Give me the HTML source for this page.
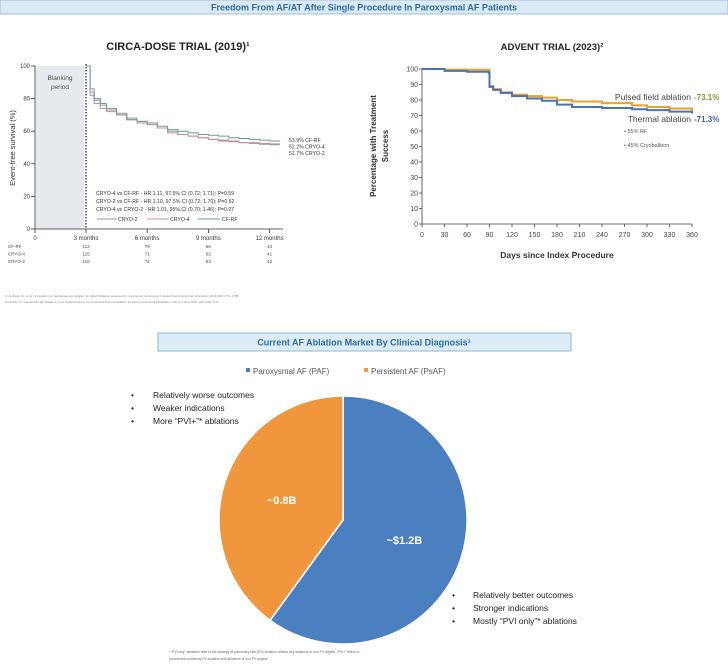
<!DOCTYPE html>
<html><head><meta charset="utf-8"><style>
body{margin:0;background:#fff;}
svg{display:block;font-family:"Liberation Sans",sans-serif;}
</style></head><body>
<svg id="s" width="728" height="665" viewBox="0 0 728 665" xmlns="http://www.w3.org/2000/svg">
<rect x="0" y="0" width="728" height="14" fill="#dbeaf6" stroke="#9fc0dc" stroke-width="1"/>
<text x="364" y="10.5" text-anchor="middle" font-size="9" font-weight="bold" fill="#2a6ca5">Freedom From AF/AT After Single Procedure In Paroxysmal AF Patients</text>

<g id="left">
<text x="178" y="50" text-anchor="middle" font-size="11" font-weight="bold" fill="#222">CIRCA-DOSE TRIAL (2019)¹</text>
<rect x="36" y="66" width="48" height="163" fill="#e6e9ee"/>
<text x="60" y="80" text-anchor="middle" font-size="6.5" fill="#555">Blanking</text>
<text x="60" y="89" text-anchor="middle" font-size="6.5" fill="#555">period</text>
<line x1="86" y1="64" x2="86" y2="229" stroke="#222" stroke-width="1.2" stroke-dasharray="1.5,1.5"/>
<text transform="translate(15,148) rotate(-90)" text-anchor="middle" font-size="7.5" fill="#333">Event-free survival (%)</text>
<text x="96" y="195" font-size="5.2" fill="#333">CRYO-4 vs CF-RF - HR 1.11, 97.5% CI (0.72; 1.71); P=0.59</text>
<text x="96" y="203" font-size="5.2" fill="#333">CRYO-2 vs CF-RF - HR 1.10, 97.5% CI (0.72; 1.70); P=0.62</text>
<text x="96" y="211" font-size="5.2" fill="#333">CRYO-4 vs CRYO-2 - HR 1.01, 95% CI (0.70; 1.46); P=0.97</text>
<g font-size="5.2" fill="#333">
<line x1="97" y1="219" x2="117" y2="219" stroke="#9a90a8"/><text x="118" y="221">CRYO-2</text>
<line x1="147" y1="219" x2="169" y2="219" stroke="#c89090"/><text x="170" y="221">CRYO-4</text>
<line x1="198" y1="219" x2="220" y2="219" stroke="#6f9a98"/><text x="222" y="221">CF-RF</text>
</g>
<text x="289" y="142" font-size="5.2" fill="#333">53.9% CF-RF</text>
<text x="289" y="148.5" font-size="5.2" fill="#333">52.2% CRYO-4</text>
<text x="289" y="155" font-size="5.2" fill="#333">51.7% CRYO-2</text>
</g>

<g id="right">
<text x="552" y="50" text-anchor="middle" font-size="9.5" font-weight="bold" fill="#222">ADVENT TRIAL (2023)²</text>
<text transform="translate(376,146) rotate(-90)" text-anchor="middle" font-size="8" font-weight="bold" fill="#333">Percentage with Treatment</text>
<text transform="translate(388,146) rotate(-90)" text-anchor="middle" font-size="8" font-weight="bold" fill="#333">Success</text>
<text x="557" y="258" text-anchor="middle" font-size="8.5" font-weight="bold" fill="#333">Days since Index Procedure</text>
<text x="691" y="100" text-anchor="end" font-size="8.5" fill="#444">Pulsed field ablation</text>
<text x="694" y="100" font-size="8" font-weight="bold" fill="#7f9b35">-73.1%</text>
<text x="691" y="122" text-anchor="end" font-size="8.5" fill="#444">Thermal ablation</text>
<text x="694" y="122" font-size="8" font-weight="bold" fill="#3d5f9e">-71.3%</text>
<text x="624" y="133" font-size="5.5" fill="#555">•   55% RF</text>
<text x="624" y="147" font-size="5.5" fill="#555">•   45% Cryoballoon</text>
</g>

<text x="5" y="297" font-size="3" fill="#888">1)        Andrade JG, et al. Cryoballoon or radiofrequency ablation for atrial fibrillation assessed by continuous monitoring: A randomized clinical trial. Circulation 2019;140:1779–1788.</text>
<text x="5" y="303" font-size="3" fill="#888">2)        Reddy VY, Gerstenfeld EP, Natale A, et al. Pulsed Field or Conventional Thermal Ablation for Paroxysmal Atrial Fibrillation. N Engl J Med 2023; 389:1660-1671.</text>

<rect x="158" y="333" width="413" height="18" fill="#dcedf8" stroke="#8fb4d0"/>
<text x="364" y="345.5" text-anchor="middle" font-size="9" font-weight="bold" fill="#2a6ca5">Current AF Ablation Market By Clinical Diagnosis¹</text>
<g font-size="8" fill="#555">
<rect x="246" y="368" width="4" height="4" fill="#4a7fc0"/><text x="253" y="374">Paroxysmal AF (PAF)</text>
<rect x="364" y="368" width="4" height="4" fill="#f0963c"/><text x="371" y="374">Persistent AF (PsAF)</text>
</g>
<g id="pie"></g>
<g font-size="8.5" fill="#222">
<text x="131" y="398">•</text><text x="153" y="398">Relatively worse outcomes</text>
<text x="131" y="411">•</text><text x="153" y="411">Weaker indications</text>
<text x="131" y="424">•</text><text x="153" y="424">More “PVI+”* ablations</text>
</g>
<g font-size="8.5" fill="#222">
<text x="452" y="598">•</text><text x="473" y="598">Relatively better outcomes</text>
<text x="452" y="611">•</text><text x="473" y="611">Stronger indications</text>
<text x="452" y="624">•</text><text x="473" y="624">Mostly “PVI only”* ablations</text>
</g>
<text x="169" y="653" font-size="3.3" fill="#666">* “PVI only” ablations refer to the strategy of pulmonary vein (PV) isolation without any ablations of non-PV targets. “PVI+” refers to</text>
<text x="169" y="660" font-size="3.3" fill="#666">procedures combining PV isolation with ablations of non-PV targets.</text>
</svg>
<script>
// ---- CIRCA-DOSE data ----
const circaMonths = [3, 3.2, 3.4, 3.7, 4, 4.5, 5, 5.5, 6, 6.5, 7, 7.5, 8, 8.5, 9, 9.5, 10, 10.5, 11, 11.5, 12, 12.5];
const circaCFRF  = [100, 86, 80, 77, 74, 70, 67, 66, 65, 63, 61, 60, 59, 58, 57.5, 57, 56, 55.5, 55, 54.5, 54, 53.9];
const circaCryo4 = [100, 82, 77, 74, 72, 70, 67, 65, 64, 62, 59, 58, 57, 56, 55, 54.5, 54, 53, 53, 52.5, 52.2, 52.2];
const circaCryo2 = [100, 84, 79, 76, 73, 71, 68, 66, 64, 62, 60, 58, 57, 56, 55, 54, 53.5, 53, 52.5, 52, 51.7, 51.7];
const circaYTicks = [0, 20, 40, 60, 80, 100];
const circaXTicks = [0, 3, 6, 9, 12];
const circaXLabels = ["0", "3 months", "6 months", "9 months", "12 months"];
const riskGroups = ["CF-RF", "CRYO-4", "CRYO-2"];
const riskCFRF = [113, 79, 66, 44];
const riskCryo4 = [115, 71, 62, 41];
const riskCryo2 = [116, 72, 63, 42];
// ---- ADVENT data ----
const adventDays = [0, 30, 60, 89, 90, 95, 105, 120, 140, 160, 180, 200, 240, 280, 300, 330, 360];
const adventPFA = [100, 99.6, 99.5, 99.5, 89, 87, 85, 83.5, 82.5, 81.5, 80, 79, 78, 76.5, 75.5, 74.5, 73.1];
const adventThermal = [100, 98.8, 98.2, 97.5, 88.5, 86.5, 84.5, 82.5, 81, 79.5, 77, 75.5, 74.8, 74, 73.5, 72.5, 71.3];
const adventYTicks = [0, 10, 20, 30, 40, 50, 60, 70, 80, 90, 100];
const adventXTicks = [0, 30, 60, 90, 120, 150, 180, 210, 240, 270, 300, 330, 360];
// ---- Pie data ----
const pieLabels = ["Paroxysmal AF (PAF)", "Persistent AF (PsAF)"];
const pieValues = [1.2, 0.8];
const pieText = ["~$1.2B", "~0.8B"];

const NS = "http://www.w3.org/2000/svg";
const svg = document.getElementById('s');
function mk(tag, attrs, parent, txt){
  const e = document.createElementNS(NS, tag);
  for (const k in attrs) e.setAttribute(k, attrs[k]);
  if (txt !== undefined) e.textContent = txt;
  (parent || svg).appendChild(e);
  return e;
}
const left = document.getElementById('left');
const right = document.getElementById('right');

function cx(m){ return m <= 3 ? 35 + m * 17 : 86 + (m - 3) * 20.4; }
function cy(v){ return 229 - v * 1.63; }
let el = mk('line', {x1: 35, y1: cy(100), x2: 35, y2: cy(0), stroke: '#333', 'stroke-width': 0.8}, left);


el = mk('line', {x1: 35, y1: cy(0), x2: 283, y2: cy(0), stroke: '#333', 'stroke-width': 0.8}, left);


circaYTicks.forEach(t => {
  mk('line', {x1: 31, y1: cy(t), x2: 35, y2: cy(t), stroke: '#333', 'stroke-width': 0.8}, left);
  const tx = mk('text', {x: 30, y: cy(t) + 2, 'text-anchor': 'end', 'font-size': 6, fill: '#333'}, left, String(t));
  
  
});
circaXTicks.forEach((t, i) => {
  mk('line', {x1: cx(t), y1: cy(0), x2: cx(t), y2: cy(0) + 4, stroke: '#333', 'stroke-width': 0.8}, left);
  const tx = mk('text', {x: cx(t), y: 240, 'text-anchor': 'middle', 'font-size': 6, fill: '#333'}, left, circaXLabels[i]);
  
  
});
function stepPath(xs, ys, fx, fy){
  let d = 'M' + fx(xs[0]) + ',' + fy(ys[0]);
  for (let i = 1; i < xs.length; i++){
    d += ' L' + fx(xs[i]) + ',' + fy(ys[i - 1]) + ' L' + fx(xs[i]) + ',' + fy(ys[i]);
  }
  return d;
}
[[circaCryo2, '#9a90a8', 'cryo2-curve'], [circaCryo4, '#c89090', 'cryo4-curve'], [circaCFRF, '#6f9a98', 'cfrf-curve']].forEach(s => {
  const p = mk('path', {d: stepPath(circaMonths, s[0], cx, cy), fill: 'none', stroke: s[1], 'stroke-width': 1}, left);
  
  
});
const riskRows = [riskCFRF, riskCryo4, riskCryo2];
riskGroups.forEach((g, r) => {
  const y = 248 + r * 7.5;
  const lt = mk('text', {x: 8, y: y, 'font-size': 4.5, fill: '#444'}, left, g);
  
  
  riskRows[r].forEach((v, i) => {
    const t = mk('text', {x: cx(circaXTicks[i + 1]), y: y, 'text-anchor': 'middle', 'font-size': 4.5, fill: '#444'}, left, String(v));
    
    
  });
});

function ax(d){ return 422 + d * 0.75; }
function ay(v){ return 224 - v * 1.55; }
el = mk('line', {x1: 422, y1: ay(100), x2: 422, y2: ay(0), stroke: '#444', 'stroke-width': 0.8}, right);


el = mk('line', {x1: 422, y1: ay(0), x2: 692, y2: ay(0), stroke: '#444', 'stroke-width': 0.8}, right);


adventYTicks.forEach(t => {
  mk('line', {x1: 419, y1: ay(t), x2: 422, y2: ay(t), stroke: '#444', 'stroke-width': 0.8}, right);
  const tx = mk('text', {x: 418, y: ay(t) + 2.5, 'text-anchor': 'end', 'font-size': 7, fill: '#444'}, right, String(t));
  
  
});
adventXTicks.forEach(t => {
  mk('line', {x1: ax(t), y1: ay(0), x2: ax(t), y2: ay(0) + 3, stroke: '#444', 'stroke-width': 0.8}, right);
  const tx = mk('text', {x: ax(t), y: 237, 'text-anchor': 'middle', 'font-size': 7, fill: '#444'}, right, String(t));
  
  
});
[[adventPFA, '#e8a42a', 'pfa-curve'], [adventThermal, '#4a74b4', 'thermal-curve']].forEach(s => {
  const p = mk('path', {d: stepPath(adventDays, s[0], ax, ay), fill: 'none', stroke: s[1], 'stroke-width': 2}, right);
  
  
});

const pie = document.getElementById('pie');
const PX = 343, PY = 520, RX = 124, RY = 124;
const total = pieValues.reduce((a, b) => a + b, 0);
const colors = ['#4a7fc0', '#f0963c'];
let a0 = 0;
pieValues.forEach((v, i) => {
  const a1 = a0 + v / total * 2 * Math.PI;
  const x0 = PX + RX * Math.sin(a0), y0 = PY - RY * Math.cos(a0);
  const x1 = PX + RX * Math.sin(a1), y1 = PY - RY * Math.cos(a1);
  const large = (a1 - a0) > Math.PI ? 1 : 0;
  const p = mk('path', {d: `M${PX},${PY} L${x0},${y0} A${RX},${RY} 0 ${large} 1 ${x1},${y1} Z`, fill: colors[i], stroke: '#fff', 'stroke-width': 1.5}, pie);
  
  
  const am = (a0 + a1) / 2;
  const t = mk('text', {x: PX + RX * 0.52 * Math.sin(am), y: PY - RY * 0.52 * Math.cos(am) + 4, 'text-anchor': 'middle', 'font-size': 11, 'font-weight': 'bold', fill: '#fff'}, pie, pieText[i]);
  
  
  a0 = a1;
});
</script>
</body></html>
